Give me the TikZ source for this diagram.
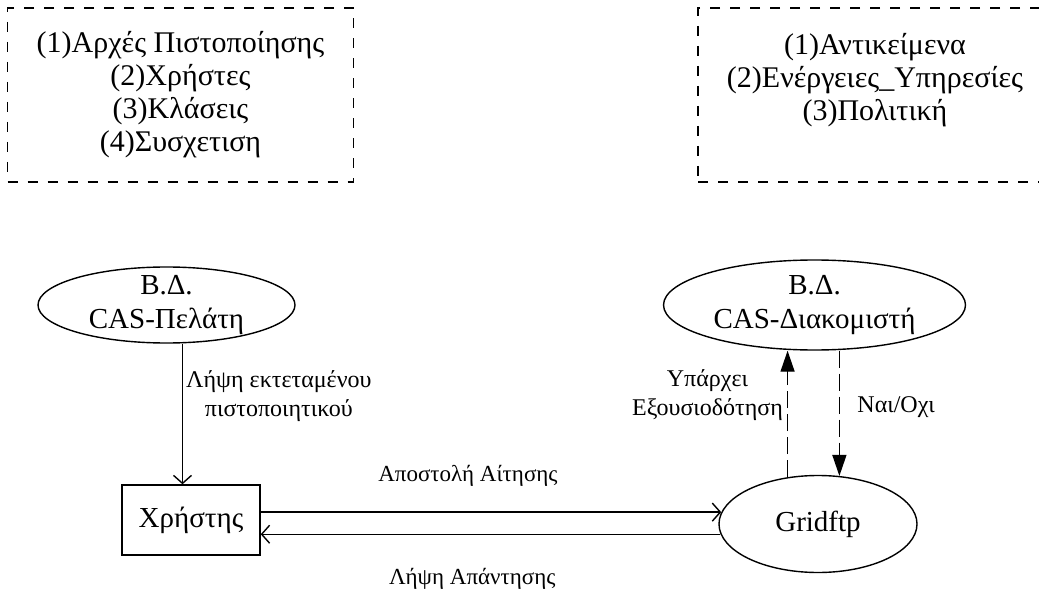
\documentclass[tikz,border=0pt]{standalone}
\usepackage{fontspec}
\setmainfont{Liberation Serif}
\usetikzlibrary{shapes.geometric,arrows.meta}

\begin{document}
\begin{tikzpicture}[x=1pt,y=-1pt,line width=1.4pt,
	kasten/.style={draw,dash pattern=on 10pt off 10pt,minimum height=174pt},
	liste/.style={align=center,font=\fontsize{30}{33}\selectfont},
	datenbank/.style={draw,ellipse,inner sep=-5pt,align=center,font=\fontsize{29}{34}\selectfont},
	knoten/.style={draw,font=\fontsize{29}{30}\selectfont},
	klein/.style={align=center,font=\fontsize{24}{29}\selectfont},
	mittel/.style={font=\fontsize{23}{28}\selectfont},
	pfeil/.style={-{Straight Barb[length=8pt,width=18pt]}},
	strich/.style={dash pattern=on 17pt off 6pt,-{Triangle[length=21pt,width=14pt]}}]

\def\bd#1{Β.Δ.\\CAS-#1}

\clip (0,0) rectangle (1039,596);

\node[kasten,liste,minimum width=346pt] (links) at (180.5,95)
	{(1)Αρχές Πιστοποίησης\\(2)Χρήστες\\(3)Κλάσεις\\(4)Συσχετιση};
\node[kasten,minimum width=354pt] (rechts) at (875,95) {};
\node[liste] (rechtstext) at ([yshift=15pt]rechts.center)
	{(1)Αντικείμενα\\(2)Ενέργειες\_Υπηρεσίες\\(3)Πολιτική};

\node[datenbank,minimum width=257pt,minimum height=76pt] (kunde) at (166.5,305) {\bd{Πελάτη}};
\node[datenbank,minimum width=302pt,minimum height=90pt] (server) at (814.5,305) {\bd{Διακομιστή}};
\node[knoten,minimum width=138pt,minimum height=70pt] (nutzer) at (191,520) {Χρήστης};
\node[knoten,ellipse,minimum width=198pt,minimum height=97pt] (grid) at (818,524) {Gridftp};

\coordinate (k) at ([xshift=16pt]kunde.south);
\draw[pfeil] (k) -- node[klein,pos=0.37,right,inner sep=3pt] (zertifikat)
	{Λήψη εκτεταμένου\\πιστοποιητικού} (k |- nutzer.north);

\draw[pfeil] (nutzer.east |- grid.173) -- node[mittel,pos=0.45,above=22pt] (anfrage)
	{Αποστολή Αίτησης} (grid.173);
\draw[pfeil] (grid.186) -- node[mittel,pos=0.54,below=30pt] (antwort)
	{Λήψη Απάντησης} (nutzer.east |- grid.186);

\draw[strich] (grid.123) -- node[klein,pos=0.65,left,inner sep=4pt] (frage)
	{Υπάρχει\\Εξουσιοδότηση} (grid.123 |- server.south);
\draw[strich] (grid.66 |- server.south) -- node[klein,pos=0.45,right=14pt] (jn)
	{Ναι/Οχι} (grid.66);

\end{tikzpicture}
\end{document}
